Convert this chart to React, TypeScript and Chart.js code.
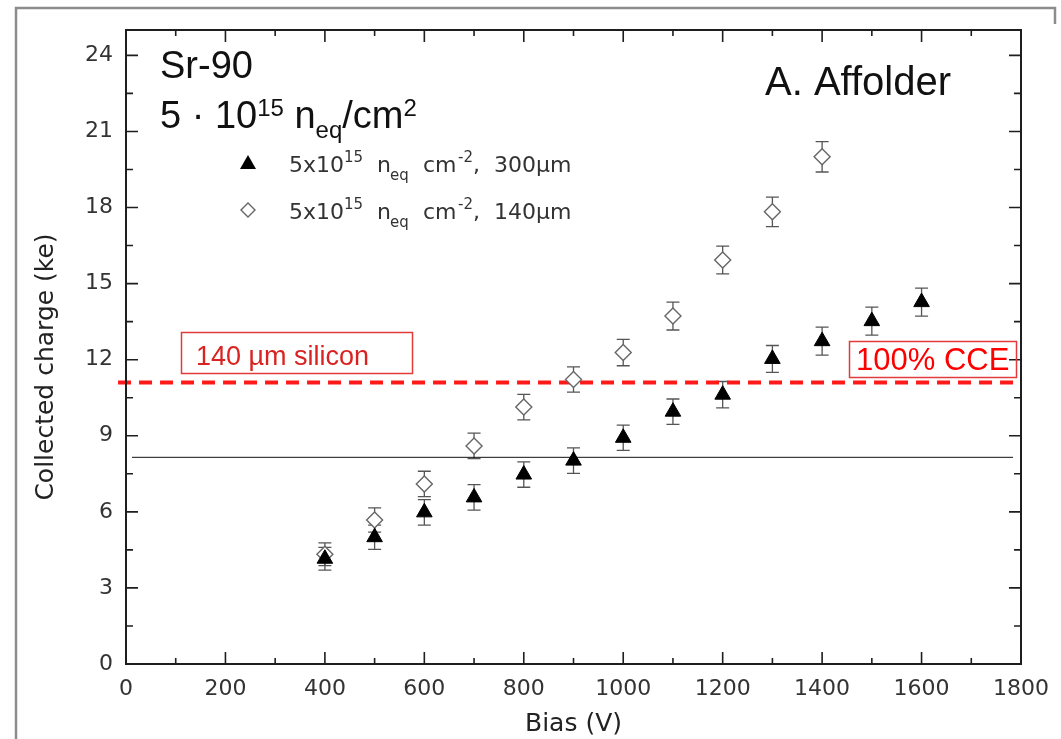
import React, { useEffect, useRef } from 'react';
import { Chart, registerables } from 'chart.js';

Chart.register(...registerables);

// ---- data ----
const BIAS_300 = [400, 500, 600, 700, 800, 900, 1000, 1100, 1200, 1300, 1400, 1500, 1600];
const CHARGE_300 = [4.15, 5.0, 5.98, 6.57, 7.47, 8.02, 8.92, 9.95, 10.62, 12.03, 12.73, 13.52, 14.27];
const ERR_300 = [0.45, 0.48, 0.5, 0.5, 0.5, 0.5, 0.5, 0.5, 0.52, 0.53, 0.55, 0.55, 0.55];

const BIAS_140 = [400, 500, 600, 700, 800, 900, 1000, 1100, 1200, 1300, 1400];
const CHARGE_140 = [4.33, 5.68, 7.1, 8.6, 10.13, 11.22, 12.28, 13.72, 15.93, 17.83, 20.0];
const ERR_140 = [0.45, 0.48, 0.5, 0.5, 0.5, 0.5, 0.52, 0.55, 0.55, 0.58, 0.6];

const CCE_LEVEL = 11.1;
const CCE_RANGE = [-16, 1784];
const REF_LEVEL = 8.15;
const REF_RANGE = [12, 1784];

const X_TICKS = [0, 200, 400, 600, 800, 1000, 1200, 1400, 1600, 1800];
const Y_TICKS = [0, 3, 6, 9, 12, 15, 18, 21, 24];
const X_MIN = 0, X_MAX = 1800, Y_MIN = 0, Y_MAX = 25;

const PLOT_FONT = '"DejaVu Sans", "Liberation Sans", sans-serif';
const NOTE_FONT = '"Liberation Sans", Arial, sans-serif';

type Seg = { t: string; size: number; dy?: number; at?: number; font?: string };

function rich(ctx: CanvasRenderingContext2D, x0: number, y: number, segs: Seg[], color: string, font: string) {
  let x = x0;
  ctx.fillStyle = color;
  ctx.textAlign = 'left';
  ctx.textBaseline = 'alphabetic';
  for (const s of segs) {
    if (s.at !== undefined) x = x0 + s.at;
    ctx.font = `${s.size}px ${s.font || font}`;
    ctx.fillText(s.t, x, y + (s.dy || 0));
    x += ctx.measureText(s.t).width;
  }
}

const decor = {
  id: 'decor',
  beforeDraw(chart: any) {
    const { ctx } = chart;
    ctx.save();
    ctx.fillStyle = '#ffffff';
    ctx.fillRect(0, 0, chart.width, chart.height);
    // outer grey frame of the slide picture
    ctx.strokeStyle = '#8c8c8c';
    ctx.lineWidth = 2.5;
    ctx.beginPath();
    ctx.moveTo(16, 739);
    ctx.lineTo(16, 8);
    ctx.lineTo(1055, 8);
    ctx.lineTo(1055, 24);
    ctx.stroke();
    ctx.restore();
  },
  beforeDatasetsDraw(chart: any) {
    const { ctx, scales: { x, y } } = chart;
    ctx.save();
    ctx.strokeStyle = '#555';
    ctx.lineWidth = 1.3;
    const bars = (xs: number[], ys: number[], es: number[]) => {
      xs.forEach((bx, i) => {
        const px = x.getPixelForValue(bx);
        const t = y.getPixelForValue(ys[i] + es[i]);
        const b = y.getPixelForValue(ys[i] - es[i]);
        ctx.beginPath();
        ctx.moveTo(px, t); ctx.lineTo(px, b);
        ctx.moveTo(px - 6.5, t); ctx.lineTo(px + 6.5, t);
        ctx.moveTo(px - 6.5, b); ctx.lineTo(px + 6.5, b);
        ctx.stroke();
      });
    };
    bars(BIAS_140, CHARGE_140, ERR_140);
    bars(BIAS_300, CHARGE_300, ERR_300);
    ctx.restore();
  },
  afterDraw(chart: any) {
    const { ctx, chartArea: { left, right, top, bottom }, scales: { x, y } } = chart;
    ctx.save();
    // plot frame
    ctx.strokeStyle = '#1e1e1e';
    ctx.lineWidth = 2;
    ctx.strokeRect(left, top, right - left, bottom - top);
    // inward ticks, all four sides
    ctx.lineWidth = 1.6;
    ctx.beginPath();
    for (let v = X_MIN; v <= X_MAX; v += 100) {
      const px = x.getPixelForValue(v);
      const len = v % 200 === 0 ? 12 : 6;
      ctx.moveTo(px, bottom); ctx.lineTo(px, bottom - len);
      ctx.moveTo(px, top); ctx.lineTo(px, top + len);
    }
    for (let v = Y_MIN; v <= Y_MAX; v += 1.5) {
      const py = y.getPixelForValue(v);
      const len = Math.abs(v % 3) < 1e-9 ? 12 : 7;
      ctx.moveTo(left, py); ctx.lineTo(left + len, py);
      ctx.moveTo(right, py); ctx.lineTo(right - len, py);
    }
    ctx.stroke();

    // y-axis title
    ctx.save();
    ctx.translate(46, 367);
    ctx.rotate(-Math.PI / 2);
    ctx.fillStyle = '#222';
    ctx.font = `25px ${PLOT_FONT}`;
    ctx.textAlign = 'center';
    ctx.textBaseline = 'middle';
    ctx.fillText('Collected charge (ke)', 0, 0);
    ctx.restore();

    // annotations
    rich(ctx, 160, 78, [{ t: 'Sr-90', size: 38 }], '#111', NOTE_FONT);
    rich(ctx, 160, 128, [
      { t: '5 \u00b7 10', size: 38 },
      { t: '15', size: 24, dy: -12 },
      { t: ' n', size: 38 },
      { t: 'eq', size: 24, dy: 10 },
      { t: '/cm', size: 38 },
      { t: '2', size: 24, dy: -12 },
    ], '#111', NOTE_FONT);
    rich(ctx, 765, 95, [{ t: 'A. Affolder', size: 40 }], '#111', NOTE_FONT);

    // legend
    const legendRows = [
      { label: '300\u00b5m', cy: 163, base: 172, filled: true },
      { label: '140\u00b5m', cy: 210, base: 219, filled: false },
    ];
    legendRows.forEach((r) => {
      ctx.save();
      if (r.filled) {
        ctx.fillStyle = '#000';
        ctx.beginPath();
        ctx.moveTo(248, r.cy - 8); ctx.lineTo(256, r.cy + 6); ctx.lineTo(240, r.cy + 6);
        ctx.closePath(); ctx.fill();
      } else {
        ctx.strokeStyle = '#666'; ctx.lineWidth = 1.4;
        ctx.beginPath();
        ctx.moveTo(248, r.cy - 7); ctx.lineTo(255, r.cy); ctx.lineTo(248, r.cy + 7); ctx.lineTo(241, r.cy);
        ctx.closePath(); ctx.stroke();
      }
      ctx.restore();
      rich(ctx, 289, r.base, [
        { t: '5x10', size: 22, at: 0 },
        { t: '15', size: 15, dy: -10, at: 55 },
        { t: 'n', size: 22, at: 88 },
        { t: 'eq', size: 15, dy: 8, at: 101 },
        { t: 'cm', size: 22, at: 134 },
        { t: '-2', size: 15, dy: -10, at: 169 },
        { t: ',', size: 22, at: 184 },
        { t: r.label, size: 22, at: 205 },
      ], '#333', PLOT_FONT);
    });

    // red labelled boxes
    ctx.lineWidth = 1.5;
    ctx.strokeStyle = '#e23b3b';
    ctx.strokeRect(181.5, 332.5, 231, 41);
    ctx.strokeRect(849.5, 341.5, 167, 36);
    rich(ctx, 196, 365, [{ t: '140 \u00b5m silicon', size: 27 }], '#d92323', NOTE_FONT);
    rich(ctx, 856, 370, [{ t: '100% CCE', size: 31 }], '#ff0000', NOTE_FONT);
    ctx.restore();
  },
};

export default function App() {
  const ref = useRef<HTMLCanvasElement | null>(null);

  useEffect(() => {
    document.body.style.margin = '0';
    const canvas = ref.current;
    if (!canvas) return;
    const chart = new Chart(canvas, {
      type: 'scatter',
      data: {
        datasets: [
          {
            label: '5x10^15 neq cm^-2, 300µm',
            data: BIAS_300.map((b, i) => ({ x: b, y: CHARGE_300[i] })),
            pointStyle: 'triangle',
            pointRadius: 9,
            pointBackgroundColor: '#000',
            pointBorderColor: '#000',
            pointBorderWidth: 1,
            showLine: false,
          },
          {
            label: '5x10^15 neq cm^-2, 140µm',
            data: BIAS_140.map((b, i) => ({ x: b, y: CHARGE_140[i] })),
            pointStyle: 'rectRot',
            pointRadius: 8,
            pointBackgroundColor: '#fff',
            pointBorderColor: '#666',
            pointBorderWidth: 1.4,
            showLine: false,
          },
          {
            label: '100% CCE (140 µm silicon)',
            data: CCE_RANGE.map((v) => ({ x: v, y: CCE_LEVEL })),
            showLine: true,
            borderColor: '#ff1a1a',
            borderWidth: 4,
            borderDash: [13, 8],
            pointRadius: 0,
            clip: false as any,
          },
          {
            label: 'reference',
            data: REF_RANGE.map((v) => ({ x: v, y: REF_LEVEL })),
            showLine: true,
            borderColor: '#111',
            borderWidth: 1,
            pointRadius: 0,
          },
        ],
      },
      options: {
        animation: false,
        responsive: false,
        devicePixelRatio: 1,
        layout: { padding: { left: 16, top: 30, right: 36, bottom: 0 } },
        plugins: { legend: { display: false }, tooltip: { enabled: false } },
        scales: {
          x: {
            type: 'linear',
            min: X_MIN,
            max: X_MAX,
            afterFit: (s: any) => { s.height = 75; },
            afterBuildTicks: (s: any) => { s.ticks = X_TICKS.map((v) => ({ value: v })); },
            grid: { display: false, drawTicks: false },
            border: { display: false },
            ticks: {
              padding: 12,
              color: '#333',
              font: { family: PLOT_FONT, size: 22 },
              maxRotation: 0,
              autoSkip: false,
              callback: (v: any) => String(v),
            },
            title: {
              display: true,
              text: 'Bias (V)',
              color: '#222',
              font: { family: PLOT_FONT, size: 25 },
              padding: { top: 0, bottom: 0 },
            },
          },
          y: {
            type: 'linear',
            min: Y_MIN,
            max: Y_MAX,
            afterFit: (s: any) => { s.width = 110; },
            afterBuildTicks: (s: any) => { s.ticks = Y_TICKS.map((v) => ({ value: v })); },
            grid: { display: false, drawTicks: false },
            border: { display: false },
            ticks: {
              padding: 13,
              color: '#333',
              font: { family: PLOT_FONT, size: 22 },
              autoSkip: false,
              callback: (v: any) => String(v),
            },
          },
        },
      },
      plugins: [decor],
    });
    return () => chart.destroy();
  }, []);

  return (
    <div style={{ width: 1061, height: 739, position: 'relative' }}>
      <canvas ref={ref} width={1061} height={739} style={{ display: 'block' }} />
    </div>
  );
}
